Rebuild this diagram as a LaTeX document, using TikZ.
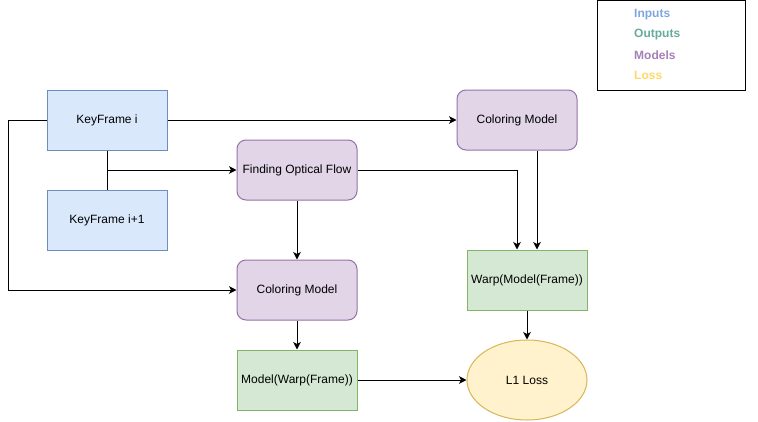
\documentclass[tikz,border=0pt]{standalone}
\usepackage{fontspec}
\setmainfont{Liberation Sans}
\usetikzlibrary{arrows.meta,shapes.geometric}
\definecolor{inFill}{HTML}{DAE8FC}\definecolor{inLine}{HTML}{6C8EBF}
\definecolor{mdFill}{HTML}{E1D5E7}\definecolor{mdLine}{HTML}{9673A6}
\definecolor{outFill}{HTML}{D5E8D4}\definecolor{outLine}{HTML}{82B366}
\definecolor{lsFill}{HTML}{FFF2CC}\definecolor{lsLine}{HTML}{D6B656}
\definecolor{legIn}{HTML}{7EA6E0}\definecolor{legOut}{HTML}{67AB9F}
\definecolor{legMd}{HTML}{A680B8}\definecolor{legLs}{HTML}{FFD966}
\tikzset{
  base/.style={minimum width=120pt,minimum height=60pt,inner sep=0pt,line width=1pt,font=\fontsize{12}{14}\selectfont,align=center},
  inbox/.style={base,draw=inLine,fill=inFill},
  mdbox/.style={base,draw=mdLine,fill=mdFill,rounded corners=9pt},
  outbox/.style={base,draw=outLine,fill=outFill},
  lsbox/.style={base,ellipse,draw=lsLine,fill=lsFill,minimum width=120pt,minimum height=80pt},
  conn/.style={line width=1pt,-{Stealth[length=7.5pt,width=7.5pt,inset=2pt]}},
  plain/.style={line width=1pt},
  legtext/.style={font=\bfseries\fontsize{12}{14}\selectfont,anchor=west,inner sep=0pt}
}
\begin{document}
\begin{tikzpicture}[x=1pt,y=-1pt]
\useasboundingbox (0,0) rectangle (758,421);
\fill[white] (0,0) rectangle (758,421);
% legend
\node[draw=black,line width=1pt,minimum width=148pt,minimum height=90pt,inner sep=0pt] (legend) at (671,45) {};
\node[legtext,text=legIn] (lin) at (634,15) {Inputs};
\node[legtext,text=legOut] (lout) at (634,35) {Outputs};
\node[legtext,text=legMd] (lmd) at (634,55) {Models};
\node[legtext,text=legLs] (lls) at (634,75) {Loss};
% nodes
\node[inbox] (kf) at (107,120) {KeyFrame i};
\node[inbox] (kf1) at (107,220) {KeyFrame i+1};
\node[mdbox] (flow) at (297,170) {Finding Optical Flow};
\node[mdbox] (cmtop) at (517,120) {Coloring Model};
\node[mdbox] (cmlow) at (297,290) {Coloring Model};
\node[outbox] (warp) at (527,280) {Warp(Model(Frame))};
\node[outbox] (mw) at (297,380) {Model(Warp(Frame))};
\node[lsbox] (loss) at (527,380) {L1 Loss};
\coordinate (lft) at (8,290);
% connectors
\draw[conn] (kf.east) -- (cmtop.west);
\draw[conn] (kf.west) -- (8,120) -- (lft) -- (cmlow.west);
\draw[plain] (kf.south) -- (kf1.north);
\draw[conn] (kf1.north) |- (flow.west);
\draw[conn] (flow.south) -- (cmlow.north);
\draw[conn] (flow.east) -| ([xshift=-10pt]warp.north);
\draw[conn] ([xshift=20pt]cmtop.south) -- ([xshift=10pt]warp.north);
\draw[conn] (cmlow.south) -- (mw.north);
\draw[conn] (mw.east) -- (loss.west);
\draw[conn] (warp.south) -- (loss.north);
\end{tikzpicture}
\end{document}
